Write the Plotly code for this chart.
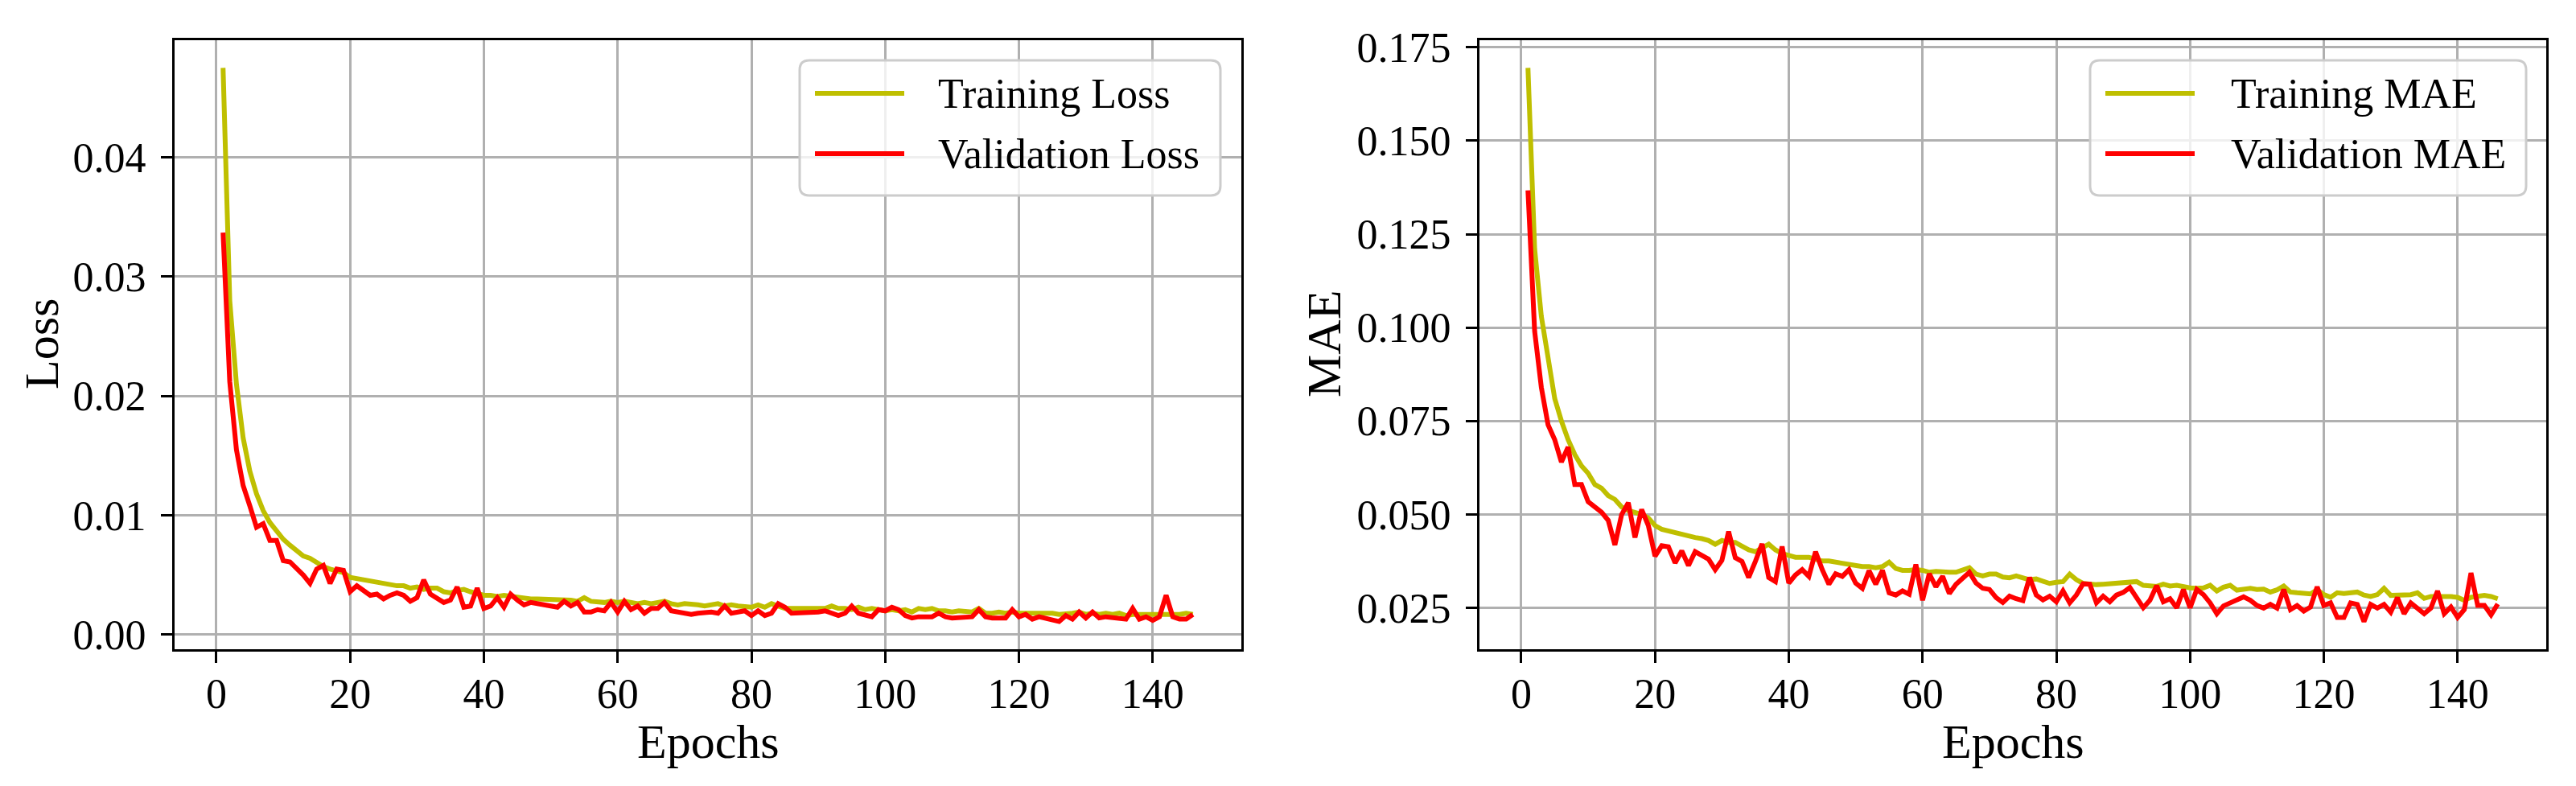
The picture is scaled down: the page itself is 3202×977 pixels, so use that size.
import plotly.graph_objects as go

W, H = 3202, 977

epochs = list(range(1, 147))

train_loss = [
    0.0475, 0.0280, 0.0210, 0.0165, 0.0137, 0.0118, 0.0104, 0.0094, 0.0087, 0.0080,
    0.0075, 0.0070, 0.0066, 0.0064, 0.0060, 0.0057, 0.0055, 0.0053, 0.0052, 0.0048,
    0.0047, 0.0046, 0.0045, 0.0043, 0.0042, 0.0041, 0.0041, 0.0041, 0.0039, 0.0040,
    0.0038, 0.0039, 0.0039, 0.0036, 0.0035, 0.0037, 0.0038, 0.0036, 0.0034, 0.0033,
    0.0033, 0.0032, 0.0033, 0.0032, 0.0031, 0.0031, 0.0030, 0.0030, 0.0030, 0.0030,
    0.0029, 0.0030, 0.0029, 0.0028, 0.0031, 0.0028, 0.0027, 0.0027, 0.0028, 0.0027,
    0.0028, 0.0027, 0.0026, 0.0027, 0.0026, 0.0027, 0.0028, 0.0026, 0.0025, 0.0026,
    0.0026, 0.0025, 0.0024, 0.0025, 0.0026, 0.0024, 0.0025, 0.0024, 0.0023, 0.0023,
    0.0025, 0.0023, 0.0026, 0.0024, 0.0022, 0.0022, 0.0022, 0.0023, 0.0023, 0.0023,
    0.0022, 0.0024, 0.0022, 0.0022, 0.0021, 0.0023, 0.0021, 0.0022, 0.0021, 0.0020,
    0.0021, 0.0020, 0.0021, 0.0019, 0.0022, 0.0021, 0.0022, 0.0020, 0.0020, 0.0019,
    0.0020, 0.0019, 0.0019, 0.0022, 0.0018, 0.0018, 0.0019, 0.0018, 0.0019, 0.0018,
    0.0018, 0.0018, 0.0018, 0.0019, 0.0018, 0.0017, 0.0017, 0.0018, 0.0019, 0.0017,
    0.0018, 0.0017, 0.0018, 0.0017, 0.0018, 0.0016, 0.0017, 0.0017, 0.0017, 0.0016,
    0.0017, 0.0017, 0.0016, 0.0017, 0.0018, 0.0017,
]

val_loss = [
    0.0337, 0.0212, 0.0155, 0.0125, 0.0108, 0.0090, 0.0093, 0.0079, 0.0079, 0.0062,
    0.0061, 0.0056, 0.0050, 0.0043, 0.0055, 0.0058, 0.0043, 0.0055, 0.0054, 0.0036,
    0.0041, 0.0037, 0.0033, 0.0034, 0.0030, 0.0033, 0.0035, 0.0033, 0.0028, 0.0031,
    0.0046, 0.0034, 0.0030, 0.0027, 0.0029, 0.0040, 0.0023, 0.0024, 0.0039, 0.0022,
    0.0024, 0.0031, 0.0023, 0.0034, 0.0029, 0.0025, 0.0027, 0.0026, 0.0026, 0.0025,
    0.0023, 0.0028, 0.0024, 0.0027, 0.0019, 0.0019, 0.0021, 0.0020, 0.0027, 0.0019,
    0.0028, 0.0021, 0.0024, 0.0018, 0.0022, 0.0022, 0.0027, 0.0020, 0.0019, 0.0019,
    0.0017, 0.0018, 0.0019, 0.0019, 0.0018, 0.0024, 0.0018, 0.0019, 0.0020, 0.0016,
    0.0020, 0.0016, 0.0018, 0.0026, 0.0023, 0.0018, 0.0018, 0.0018, 0.0019, 0.0019,
    0.0020, 0.0018, 0.0016, 0.0018, 0.0024, 0.0018, 0.0016, 0.0015, 0.0021, 0.0020,
    0.0023, 0.0021, 0.0016, 0.0014, 0.0015, 0.0015, 0.0015, 0.0018, 0.0015, 0.0014,
    0.0014, 0.0015, 0.0015, 0.0021, 0.0015, 0.0014, 0.0014, 0.0014, 0.0021, 0.0015,
    0.0017, 0.0013, 0.0015, 0.0014, 0.0013, 0.0011, 0.0016, 0.0013, 0.0019, 0.0014,
    0.0019, 0.0014, 0.0015, 0.0014, 0.0014, 0.0013, 0.0022, 0.0013, 0.0015, 0.0012,
    0.0015, 0.0033, 0.0015, 0.0013, 0.0013, 0.0017,
]

train_mae = [
    0.1695, 0.121, 0.103, 0.091, 0.081, 0.075, 0.070, 0.066, 0.063, 0.061,
    0.058, 0.057, 0.055, 0.054, 0.052, 0.051, 0.0505, 0.050, 0.049, 0.047,
    0.046, 0.0455, 0.045, 0.0445, 0.044, 0.0438, 0.0435, 0.043, 0.042, 0.043,
    0.0425, 0.0425, 0.0415, 0.0405, 0.040, 0.041, 0.042, 0.0405, 0.0395, 0.039,
    0.0385, 0.0385, 0.0385, 0.038, 0.0375, 0.0375, 0.0372, 0.037, 0.0367, 0.0362,
    0.036, 0.036, 0.0357, 0.036, 0.0372, 0.0355, 0.035, 0.035, 0.0352, 0.035,
    0.0345, 0.0347, 0.0345, 0.0345, 0.0345, 0.035, 0.0357, 0.034, 0.0335, 0.034,
    0.034, 0.0332, 0.033, 0.0335, 0.033, 0.0325, 0.0327, 0.032, 0.0315, 0.0318,
    0.032, 0.034, 0.0325, 0.0315, 0.0313, 0.0312, 0.0313, 0.0314, 0.0314, 0.0315,
    0.0316, 0.032, 0.031, 0.031, 0.0307, 0.0313, 0.0308, 0.031, 0.0305, 0.0303,
    0.0302, 0.0303, 0.031, 0.0295, 0.0305, 0.031, 0.0297, 0.030, 0.0302, 0.0299,
    0.030, 0.0292, 0.0298, 0.0308, 0.0292, 0.029, 0.0288, 0.0287, 0.0298, 0.0285,
    0.0278, 0.029, 0.0288, 0.0289, 0.0292, 0.0284, 0.028, 0.0285, 0.0302, 0.0283,
    0.0283, 0.0283, 0.0285, 0.029, 0.0275, 0.028, 0.0281, 0.0282, 0.028, 0.0278,
    0.027, 0.0278, 0.0282, 0.0283, 0.028, 0.0274,
]

val_mae = [
    0.1367, 0.099, 0.084, 0.074, 0.070, 0.064, 0.068, 0.058, 0.058, 0.0534,
    0.052, 0.0506, 0.0484, 0.0418, 0.0499, 0.0531, 0.0438, 0.0513, 0.047, 0.0388,
    0.0416, 0.0413, 0.037, 0.0402, 0.0363, 0.040, 0.039, 0.038, 0.0352, 0.0377,
    0.0454, 0.0384, 0.0374, 0.0331, 0.0374, 0.0421, 0.0331, 0.032, 0.0414, 0.0316,
    0.0338, 0.0352, 0.0334, 0.040, 0.0352, 0.0313, 0.0341, 0.0334, 0.0352, 0.0316,
    0.0302, 0.0349, 0.0313, 0.035, 0.029, 0.0284, 0.0295, 0.0286, 0.0366, 0.027,
    0.0341, 0.0306, 0.0334, 0.0288, 0.0313, 0.0327, 0.0345, 0.0316, 0.0302, 0.0299,
    0.0277, 0.0264, 0.0281, 0.0274, 0.0269, 0.0331, 0.0284, 0.0271, 0.0281, 0.0266,
    0.0295, 0.0263, 0.0284, 0.0314, 0.0313, 0.0263, 0.0281, 0.0266, 0.0284, 0.0291,
    0.0304, 0.0277, 0.025, 0.027, 0.0309, 0.0266, 0.0274, 0.025, 0.0299, 0.025,
    0.0299, 0.0285, 0.0263, 0.0234, 0.0255, 0.0263, 0.027, 0.0279, 0.027, 0.0256,
    0.0249, 0.0259, 0.0249, 0.0299, 0.0245, 0.0256, 0.0241, 0.0252, 0.0306, 0.0256,
    0.0263, 0.0224, 0.0224, 0.0263, 0.0259, 0.0213, 0.0259, 0.0249, 0.0259, 0.0238,
    0.0277, 0.0234, 0.0263, 0.0249, 0.0234, 0.0249, 0.0295, 0.0234, 0.0252, 0.0224,
    0.0245, 0.0343, 0.0256, 0.0256, 0.0231, 0.026,
]

epoch_ticks = [0, 20, 40, 60, 80, 100, 120, 140]
loss_ticks = [0.00, 0.01, 0.02, 0.03, 0.04]
mae_ticks = [0.025, 0.050, 0.075, 0.100, 0.125, 0.150, 0.175]

series_names = ["Training Loss", "Validation Loss", "Training MAE", "Validation MAE"]
axis_titles = ["Epochs", "Loss", "MAE"]
TRAIN_COLOR = "#bfbf00"
VAL_COLOR = "#ff0000"
FONT = "Liberation Serif"
LW = 6


def auto_range(*arrays, margin=0.05):
    lo = min(min(a) for a in arrays)
    hi = max(max(a) for a in arrays)
    span = hi - lo
    return [lo - margin * span, hi + margin * span]


fig = go.Figure()
fig.add_trace(go.Scatter(x=epochs, y=train_loss, mode="lines", name=series_names[0],
                         line=dict(color=TRAIN_COLOR, width=LW), xaxis="x", yaxis="y",
                         showlegend=False))
fig.add_trace(go.Scatter(x=epochs, y=val_loss, mode="lines", name=series_names[1],
                         line=dict(color=VAL_COLOR, width=LW), xaxis="x", yaxis="y",
                         showlegend=False))
fig.add_trace(go.Scatter(x=epochs, y=train_mae, mode="lines", name=series_names[2],
                         line=dict(color=TRAIN_COLOR, width=LW), xaxis="x2", yaxis="y2",
                         showlegend=False))
fig.add_trace(go.Scatter(x=epochs, y=val_mae, mode="lines", name=series_names[3],
                         line=dict(color=VAL_COLOR, width=LW), xaxis="x2", yaxis="y2",
                         showlegend=False))

xr = auto_range(epochs)

common_axis = dict(
    showline=True, linecolor="black", linewidth=3, mirror=True,
    ticks="outside", ticklen=14, tickwidth=3, tickcolor="black",
    showgrid=True, gridcolor="#b0b0b0", gridwidth=3,
    zeroline=False, automargin=False,
    tickfont=dict(family=FONT, size=52, color="black"),
)

ydom = [1 - 807 / H, 1 - 50 / H]

fig.update_layout(
    width=W, height=H,
    margin=dict(l=0, r=0, t=0, b=0, autoexpand=False),
    paper_bgcolor="white", plot_bgcolor="white",
    font=dict(family=FONT, color="black"),
    xaxis=dict(domain=[217 / W, 1543 / W], range=xr, tickvals=epoch_ticks,
               anchor="y", ticklabelstandoff=-6, **common_axis),
    yaxis=dict(domain=ydom, range=auto_range(train_loss, val_loss), tickvals=loss_ticks,
               tickformat=".2f", anchor="x", ticklabelstandoff=8, **common_axis),
    xaxis2=dict(domain=[1839 / W, 3165 / W], range=xr, tickvals=epoch_ticks,
                anchor="y2", ticklabelstandoff=-6, **common_axis),
    yaxis2=dict(domain=ydom, range=auto_range(train_mae, val_mae), tickvals=mae_ticks,
                tickformat=".3f", anchor="x2", ticklabelstandoff=8, **common_axis),
)


def px(x):
    return x / W


def py(y):
    return 1 - y / H


# axis titles
title_font = dict(family=FONT, size=60, color="black")
for cx in ((217 + 1543) / 2, (1839 + 3165) / 2):
    fig.add_annotation(x=px(cx), y=py(922), xref="paper", yref="paper",
                       text=axis_titles[0], showarrow=False, xanchor="center",
                       yanchor="middle", font=title_font)
for cx, label in ((52, axis_titles[1]), (1646, axis_titles[2])):
    fig.add_annotation(x=px(cx), y=py(428), xref="paper", yref="paper",
                       text=label, showarrow=False, textangle=-90, xanchor="center",
                       yanchor="middle", font=title_font)


def rounded_rect(x0, y0, x1, y1, r):
    pts = [
        ("M", [(x0 + r, y0)]),
        ("L", [(x1 - r, y0)]),
        ("Q", [(x1, y0), (x1, y0 + r)]),
        ("L", [(x1, y1 - r)]),
        ("Q", [(x1, y1), (x1 - r, y1)]),
        ("L", [(x0 + r, y1)]),
        ("Q", [(x0, y1), (x0, y1 - r)]),
        ("L", [(x0, y0 + r)]),
        ("Q", [(x0, y0), (x0 + r, y0)]),
    ]
    s = ""
    for cmd, ps in pts:
        s += cmd + " ".join(f"{px(a):.6f},{py(b):.6f}" for a, b in ps) + " "
    return s + "Z"


def add_legend(box, line_x, text_x, rows, names):
    fig.add_shape(type="path", path=rounded_rect(*box, 12), xref="paper", yref="paper",
                  fillcolor="rgba(255,255,255,0.8)", line=dict(color="#cccccc", width=3),
                  layer="above")
    for (ry, color), name in zip(rows, names):
        fig.add_shape(type="line", xref="paper", yref="paper",
                      x0=px(line_x[0]), x1=px(line_x[1]), y0=py(ry), y1=py(ry),
                      line=dict(color=color, width=LW), layer="above")
        fig.add_annotation(x=px(text_x), y=py(ry), xref="paper", yref="paper",
                           text=name, showarrow=False, xanchor="left", yanchor="middle",
                           font=dict(family=FONT, size=52, color="black"))


add_legend((994, 75, 1517, 243), (1013, 1124), 1164,
           [(116, TRAIN_COLOR), (191, VAL_COLOR)], series_names[0:2])
add_legend((2598, 75, 3140, 243), (2617, 2728), 2771,
           [(116, TRAIN_COLOR), (191, VAL_COLOR)], series_names[2:4])

fig.write_html("out.html")
